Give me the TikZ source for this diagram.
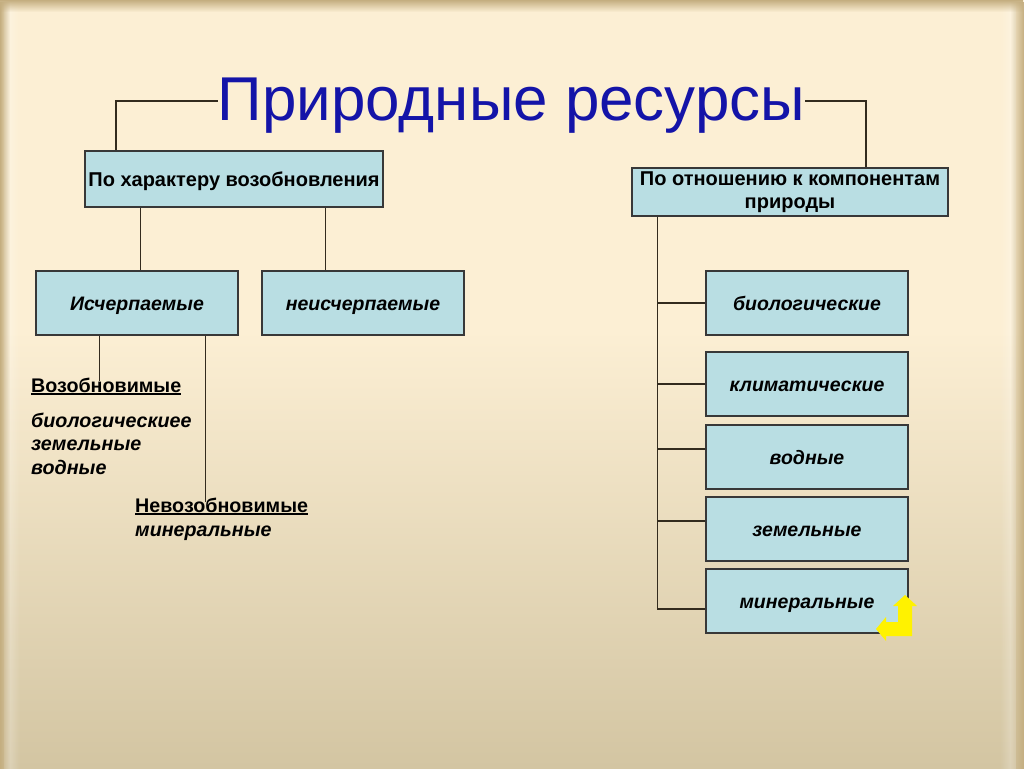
\documentclass[tikz,border=0pt]{standalone}
\usepackage{fontspec}
\setmainfont{Liberation Sans}
\usetikzlibrary{fadings}
\definecolor{bgtop}{HTML}{FCEFD4}
\definecolor{bgbot}{HTML}{D3C5A2}
\definecolor{edgecol}{HTML}{C4AE80}
\definecolor{boxfill}{HTML}{B9DEE3}
\definecolor{boxline}{HTML}{383838}
\definecolor{linecol}{HTML}{332B1E}
\definecolor{titleblue}{HTML}{1414A8}
\newcommand\myul[1]{{\setbox0\hbox{#1}\rlap{\raisebox{-2.8pt}{\rule{\wd0}{1.6pt}}}\box0}}
\begin{document}
\begin{tikzpicture}[x=1pt,y=-1pt,
  box/.style={draw=boxline, line width=1.3pt, fill=boxfill, minimum width=202pt,
    minimum height=64pt, inner sep=0pt, align=center, text height=14pt, text depth=0pt,
    font=\fontsize{19.5}{22}\selectfont\bfseries\itshape},
  upbox/.style={box, font=\fontsize{20}{23}\selectfont\bfseries},
  conn/.style={draw=linecol, line width=1.2pt},
  lbl/.style={anchor=base west, inner sep=0pt, font=\fontsize{19.7}{22}\selectfont\bfseries},
  ilbl/.style={lbl, font=\fontsize{19.7}{22}\selectfont\bfseries\itshape}]
% background
\useasboundingbox (0,0) rectangle (1024,768);
\fill[bgtop] (0,0) rectangle (1024,331);
\shade[top color=bgtop, bottom color=bgbot] (0,330) rectangle (1024,768);
\fill[white, opacity=0.35, path fading=east] (4,0) rectangle (20,768);
\fill[edgecol, path fading=east] (0,0) rectangle (10,768);
\fill[white, opacity=0.35, path fading=west] (1000,0) rectangle (1016,768);
\fill[edgecol, path fading=west] (1010,0) rectangle (1024,768);
\fill[edgecol, path fading=south] (0,0) rectangle (1024,12);

% title
\node[anchor=base, inner sep=0pt, text=titleblue, font=\fontsize{61.9}{70}\selectfont]
  (title) at (511.5,120) {Природные ресурсы};

% boxes
\node[upbox, minimum width=298pt, minimum height=56pt] (b1) at (234,179) {По характеру возобновления};
\node[box, text height=, text depth=, font=\fontsize{20}{23}\selectfont\bfseries,
  minimum width=316pt, minimum height=48pt] (b2) at (790,192) {По отношению к компонентам\\природы};
\node[box] (isch) at (137,303) {Исчерпаемые};
\node[box] (neis) at (363,303) {неисчерпаемые};
\node[box] (bio) at (807,303) {биологические};
\node[box] (klim) at (807,384) {климатические};
\node[box] (vod) at (807,457) {водные};
\node[box] (zem) at (807,529) {земельные};
\node[box] (minr) at (807,601) {минеральные};

% left texts
\node[lbl] (ren) at (31,392) {\myul{Возобновимые}};
\node[ilbl] (r1) at (31,427) {биологическиее};
\node[ilbl] (r2) at (31,450.5) {земельные};
\node[ilbl] (r3) at (31,474) {водные};
\node[lbl] (nren) at (135,512) {\myul{Невозобновимые}};
\node[ilbl] (n1) at (135,536) {минеральные};

% connectors
\draw[conn] ([yshift=19pt]title.base west) -| ([xshift=-118pt]b1.north);
\draw[conn] ([yshift=19pt]title.base east) -| ([xshift=76pt]b2.north);
\draw[conn] ([xshift=56pt]b1.south west) -- ([xshift=105pt]isch.north west);
\draw[conn] ([xshift=241pt]b1.south west) -- ([xshift=64pt]neis.north west);
\draw[conn] ([xshift=64pt]isch.south west) -- ++(0,45);
\draw[conn] ([xshift=170pt]isch.south west) -- ++(0,166);
\draw[conn] ([xshift=26pt]b2.south west) |- ([yshift=-8pt]minr.west);
\draw[conn] (bio.west) -- ++(-48,0);
\draw[conn] (klim.west) -- ++(-48,0);
\draw[conn] ([yshift=8pt]vod.west) -- ++(-48,0);
\draw[conn] ([yshift=8pt]zem.west) -- ++(-48,0);

% return button
\fill[yellow] (905,595) -- (917,606) -- (912,606) -- (912,636) -- (886,636)
  -- (886,641) -- (876,629) -- (886,617) -- (886,622) -- (898,622) -- (898,606)
  -- (893,606) -- cycle;
\end{tikzpicture}
\end{document}
